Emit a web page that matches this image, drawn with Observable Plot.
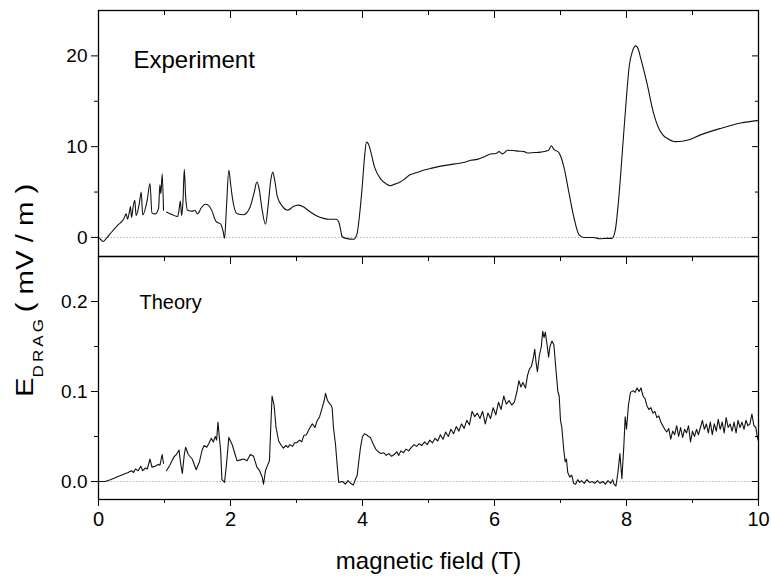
<!DOCTYPE html>
<html><head><meta charset="utf-8">
<script src="https://cdn.jsdelivr.net/npm/d3@7"></script>
<script src="https://cdn.jsdelivr.net/npm/@observablehq/plot@0.6"></script>
<style>
body{margin:0;background:#fff;}
#chart{position:relative;width:771px;height:579px;background:#fff;}
#chart svg{position:absolute;left:0;}
</style></head><body><div id="chart"></div>
<script>
const xMajor = [0, 2, 4, 6, 8, 10];
const xMinor = [1, 3, 5, 7, 9];
const yTopMajor = [0, 10, 20];
const yTopMinor = [5, 15];
const yBotMajor = [0, 0.1, 0.2];
const yBotMinor = [0.05, 0.15];

const xTitle = "magnetic field (T)";
const yTitleMain = "E";
const yTitleSub = "DRAG";
const yTitleUnit = "( mV / m )";
const topLabel = "Experiment";
const bottomLabel = "Theory";

const expX = [0.00,0.03,0.07,0.12,0.20,0.30,0.38,0.42,0.44,0.47,0.485,0.50,0.53,0.55,0.57,0.62,0.647,0.67,0.74,0.78,0.81,0.86,0.91,0.93,0.945,0.965,0.985,1.00,
1.03,1.12,1.20,1.22,1.24,1.26,1.28,1.30,1.32,1.35,1.42,1.46,1.50,1.56,1.62,1.67,1.72,1.77,1.79,1.85,1.89,1.91,1.94,1.975,2.00,2.03,2.10,2.20,2.30,2.36,2.40,2.43,2.48,2.53,2.57,2.61,2.64,2.67,2.71,2.79,2.87,2.95,3.03,3.12,3.21,3.30,3.41,3.50,3.60,3.64,3.67,3.69,3.75,3.87,3.92,3.96,
4.00,4.03,4.06,4.09,4.12,4.18,4.28,4.36,4.42,4.50,4.57,4.65,4.72,4.78,4.85,4.92,5.03,5.15,5.28,5.40,5.53,5.64,5.74,5.85,5.94,6.02,6.07,6.12,6.20,6.30,6.39,6.45,6.50,6.60,6.70,6.82,6.86,6.90,6.97,7.01,7.05,7.13,7.20,7.28,7.35,7.50,7.60,7.70,7.78,7.83,7.88,7.95,
8.00,8.04,8.09,8.14,8.18,8.21,8.31,8.41,8.49,8.55,8.62,8.74,8.85,8.92,9.12,9.42,9.73,10.0];
const expY = [0.0,-0.2,-0.45,-0.1,0.6,1.4,2.0,2.6,2.0,2.9,3.4,2.2,3.6,4.1,2.4,3.8,5.0,2.5,4.2,5.95,2.7,2.6,3.2,5.8,4.8,7.0,3.0,null,
2.8,2.5,2.3,3.0,4.0,2.4,4.0,7.5,4.5,3.0,2.9,3.0,2.6,3.3,3.65,3.5,2.9,1.9,1.7,1.5,0.6,-0.1,3.5,7.4,6.0,4.3,2.6,2.5,3.4,5.0,6.1,5.5,3.0,1.45,3.5,6.3,7.2,6.3,4.5,3.4,3.0,3.4,3.56,3.3,2.8,2.4,2.1,2.0,2.0,1.7,0.8,0.1,-0.1,-0.2,0.5,2.8,
6.0,8.8,10.5,10.3,9.6,7.8,6.4,5.9,5.7,5.9,6.1,6.5,6.9,7.05,7.2,7.4,7.6,7.8,7.97,8.1,8.25,8.5,8.6,8.9,9.2,9.25,9.45,9.2,9.6,9.55,9.5,9.45,9.3,9.35,9.4,9.6,10.1,9.7,9.4,8.8,7.8,4.85,2.3,0.3,0.0,0.0,-0.15,-0.1,-0.1,0.8,4.1,10.7,
15.5,18.8,20.5,21.1,20.7,19.9,17.0,13.7,12.0,11.3,10.9,10.55,10.6,10.7,11.3,12.0,12.6,12.9];

const thX = [0.00,0.10,0.18,0.28,0.38,0.45,0.50,0.53,0.56,0.60,0.64,0.67,0.71,0.74,0.78,0.81,0.86,0.90,0.93,0.965,0.985,1.00,
1.03,1.08,1.14,1.18,1.22,1.245,1.27,1.30,1.32,1.36,1.42,1.48,1.53,1.57,1.60,1.64,1.67,1.71,1.74,1.77,1.79,1.81,1.83,1.85,1.87,1.91,1.94,1.975,2.00,2.03,2.07,2.10,2.15,2.20,2.25,2.30,2.35,2.40,2.44,2.48,2.50,2.53,2.55,2.59,2.61,2.63,2.66,2.69,2.73,2.77,2.80,2.84,2.87,2.90,2.94,2.97,
3.00,3.05,3.08,3.11,3.15,3.19,3.24,3.28,3.31,3.35,3.39,3.42,3.44,3.47,3.49,3.52,3.54,3.56,3.59,3.62,3.64,3.70,3.74,3.78,3.82,3.86,3.89,3.92,3.94,3.97,
4.00,4.03,4.06,4.09,4.12,4.16,4.20,4.24,4.28,4.32,4.36,4.40,4.44,4.48,4.52,4.55,4.58,4.62,4.66,4.70,4.74,4.78,4.82,4.86,4.90,4.94,4.98,
5.02,5.06,5.10,5.14,5.18,5.22,5.26,5.30,5.34,5.38,5.42,5.46,5.50,5.54,5.58,5.62,5.66,5.70,5.74,5.78,5.82,5.86,5.90,5.94,5.98,
6.02,6.06,6.10,6.14,6.18,6.22,6.26,6.30,6.34,6.37,6.40,6.43,6.47,6.50,6.53,6.56,6.59,6.61,6.63,6.65,6.68,6.71,6.73,6.75,6.77,6.80,6.82,6.84,6.87,6.90,6.93,6.96,6.98,
7.00,7.02,7.05,7.07,7.09,7.11,7.14,7.17,7.20,7.23,7.26,7.29,7.32,7.36,7.40,7.44,7.48,7.52,7.56,7.60,7.64,7.68,7.72,7.76,7.79,7.81,7.84,7.87,7.90,7.93,7.96,7.98,
8.00,8.03,8.06,8.10,8.13,8.16,8.19,8.22,8.25,8.28,8.31,8.34,8.37,8.40,8.43,8.46,8.49,8.52,8.55,8.58,8.61,8.64,8.67,8.70,8.73,8.76,8.79,8.82,8.85,8.88,8.91,8.94,8.97,
9.00,9.03,9.06,9.09,9.12,9.15,9.18,9.21,9.24,9.27,9.30,9.33,9.36,9.39,9.42,9.45,9.48,9.51,9.54,9.57,9.60,9.63,9.66,9.69,9.72,9.75,9.78,9.81,9.84,9.87,9.90,9.93,9.96,9.98,10.0];
const thY = [0.000,0.000,0.002,0.005,0.008,0.010,0.012,0.010,0.014,0.012,0.017,0.012,0.015,0.014,0.025,0.016,0.017,0.019,0.018,0.030,0.020,null,
0.012,0.018,0.027,0.030,0.035,0.020,0.009,0.030,0.038,0.030,0.025,0.013,0.022,0.035,0.040,0.038,0.042,0.048,0.044,0.050,0.046,0.066,0.050,0.035,0.002,-0.001,0.020,0.049,0.045,0.040,0.030,0.023,0.024,0.025,0.023,0.030,0.028,0.016,0.012,0.005,-0.003,0.012,0.016,0.023,0.060,0.095,0.085,0.060,0.045,0.040,0.037,0.040,0.038,0.041,0.039,0.043,
0.043,0.046,0.044,0.051,0.052,0.058,0.064,0.060,0.067,0.072,0.082,0.090,0.098,0.090,0.088,0.085,0.082,0.060,0.042,0.015,-0.001,0.000,-0.003,0.001,-0.002,-0.004,0.002,0.007,0.020,0.038,
0.050,0.053,0.052,0.050,0.049,0.042,0.036,0.033,0.031,0.032,0.029,0.031,0.028,0.030,0.033,0.029,0.034,0.032,0.036,0.034,0.038,0.041,0.039,0.042,0.040,0.044,0.041,
0.046,0.043,0.048,0.045,0.052,0.047,0.055,0.050,0.058,0.053,0.061,0.056,0.064,0.059,0.068,0.063,0.078,0.072,0.076,0.070,0.078,0.064,0.076,0.070,0.082,
0.074,0.088,0.080,0.095,0.086,0.090,0.085,0.088,0.100,0.112,0.105,0.110,0.104,0.118,0.125,0.128,0.138,0.147,0.132,0.122,0.140,0.150,0.167,0.160,0.166,0.150,0.138,0.150,0.156,0.152,0.125,0.100,0.095,
0.068,0.060,0.035,0.022,0.025,0.010,0.005,0.007,-0.002,-0.003,0.002,-0.001,0.001,-0.002,0.002,-0.001,0.000,-0.002,0.001,-0.002,0.000,-0.003,0.001,-0.002,0.002,-0.003,-0.005,0.010,0.031,0.003,0.040,0.072,
0.058,0.085,0.099,0.101,0.099,0.104,0.100,0.104,0.095,0.092,0.084,0.080,0.082,0.076,0.078,0.071,0.073,0.066,0.062,0.058,0.055,0.059,0.047,0.056,0.052,0.062,0.050,0.060,0.049,0.058,0.054,0.062,0.044,
0.056,0.050,0.058,0.052,0.060,0.068,0.058,0.064,0.054,0.066,0.052,0.064,0.056,0.069,0.058,0.066,0.054,0.071,0.060,0.064,0.056,0.066,0.054,0.068,0.060,0.066,0.058,0.068,0.062,0.064,0.075,0.062,0.060,0.050,0.045];

const font = "Arial, 'Liberation Sans', Helvetica, sans-serif";
const W = 771;
const expData = expX.map((x, i) => ({x, y: expY[i]}));
const thData = thX.map((x, i) => ({x, y: thY[i]}));
const blank = () => "";
const style = {fontFamily: font, color: "#000", background: "none", overflow: "visible"};

const topPlot = Plot.plot({
  width: W, height: 256,
  marginLeft: 98, marginRight: 13, marginTop: 10, marginBottom: 0,
  style,
  x: {domain: [0, 10], label: null},
  y: {domain: [-2.1, 25], label: null},
  marks: [
    Plot.ruleY([0], {stroke: "#888", strokeWidth: 0.8, strokeDasharray: "1.2,2"}),
    Plot.line(expData, {x: "x", y: "y", stroke: "#111", strokeWidth: 1.1, curve: "monotone-x"}),
    Plot.frame({stroke: "#000", strokeWidth: 1.3}),
    Plot.axisY(yTopMajor, {anchor: "left", tickSize: 7, tickPadding: 4, fontSize: 19, label: null}),
    Plot.axisY(yTopMinor, {anchor: "left", tickSize: 4, tickFormat: blank, label: null}),
    Plot.axisY(yTopMajor, {anchor: "right", tickSize: 7, dx: -7, tickFormat: blank, label: null}),
    Plot.axisY(yTopMinor, {anchor: "right", tickSize: 4, dx: -4, tickFormat: blank, label: null}),
    Plot.axisX(xMajor, {anchor: "top", tickSize: 7, dy: 7, tickFormat: blank, label: null}),
    Plot.axisX(xMinor, {anchor: "top", tickSize: 4, dy: 4, tickFormat: blank, label: null}),
    Plot.text([topLabel], {frameAnchor: "top-left", dx: 35, dy: 57, lineAnchor: "bottom", textAnchor: "start", fontSize: 24, fill: "#000"})
  ]
});
topPlot.style.top = "0px";

const botPlot = Plot.plot({
  width: W, height: 323,
  marginLeft: 98, marginRight: 13, marginTop: 0, marginBottom: 80,
  style,
  x: {domain: [0, 10], label: null},
  y: {domain: [-0.02, 0.25], label: null},
  marks: [
    Plot.ruleY([0], {stroke: "#888", strokeWidth: 0.8, strokeDasharray: "1.2,2"}),
    Plot.line(thData, {x: "x", y: "y", stroke: "#111", strokeWidth: 1.1}),
    Plot.frame({stroke: "#000", strokeWidth: 1.3}),
    Plot.axisY(yBotMajor, {anchor: "left", tickSize: 7, tickPadding: 4, fontSize: 19, tickFormat: d3.format(".1f"), label: null}),
    Plot.axisY(yBotMinor, {anchor: "left", tickSize: 4, tickFormat: blank, label: null}),
    Plot.axisY(yBotMajor, {anchor: "right", tickSize: 7, dx: -7, tickFormat: blank, label: null}),
    Plot.axisY(yBotMinor, {anchor: "right", tickSize: 4, dx: -4, tickFormat: blank, label: null}),
    Plot.axisX(xMajor, {anchor: "top", tickSize: 7, dy: 7, tickFormat: blank, label: null}),
    Plot.axisX(xMinor, {anchor: "top", tickSize: 4, dy: 4, tickFormat: blank, label: null}),
    Plot.axisX(xMajor, {anchor: "bottom", tickSize: 7, tickPadding: 5, fontSize: 20, label: null}),
    Plot.axisX(xMinor, {anchor: "bottom", tickSize: 4, tickFormat: blank, label: null}),
    Plot.text([bottomLabel], {frameAnchor: "top-left", dx: 41, dy: 52, lineAnchor: "bottom", textAnchor: "start", fontSize: 20, fill: "#000"}),
    Plot.text([xTitle], {frameAnchor: "bottom", dy: 69, lineAnchor: "bottom", textAnchor: "middle", fontSize: 24, fill: "#000"})
  ]
});
botPlot.style.top = "256px";

const chart = document.getElementById("chart");
chart.append(topPlot, botPlot);

const ov = d3.create("svg").attr("width", W).attr("height", 579)
  .style("top", "0px").style("pointer-events", "none");
const t = ov.append("text")
  .attr("transform", "translate(33,397) rotate(-90) scale(1.22,1)")
  .attr("font-family", font).attr("font-size", 24).attr("fill", "#000");
t.append("tspan").text(yTitleMain);
t.append("tspan").attr("font-size", 14).attr("letter-spacing", 2.5).attr("dy", 10).text(yTitleSub);
t.append("tspan").attr("dy", -10).attr("dx", 3).text(yTitleUnit);
chart.append(ov.node());
</script>
</body></html>
